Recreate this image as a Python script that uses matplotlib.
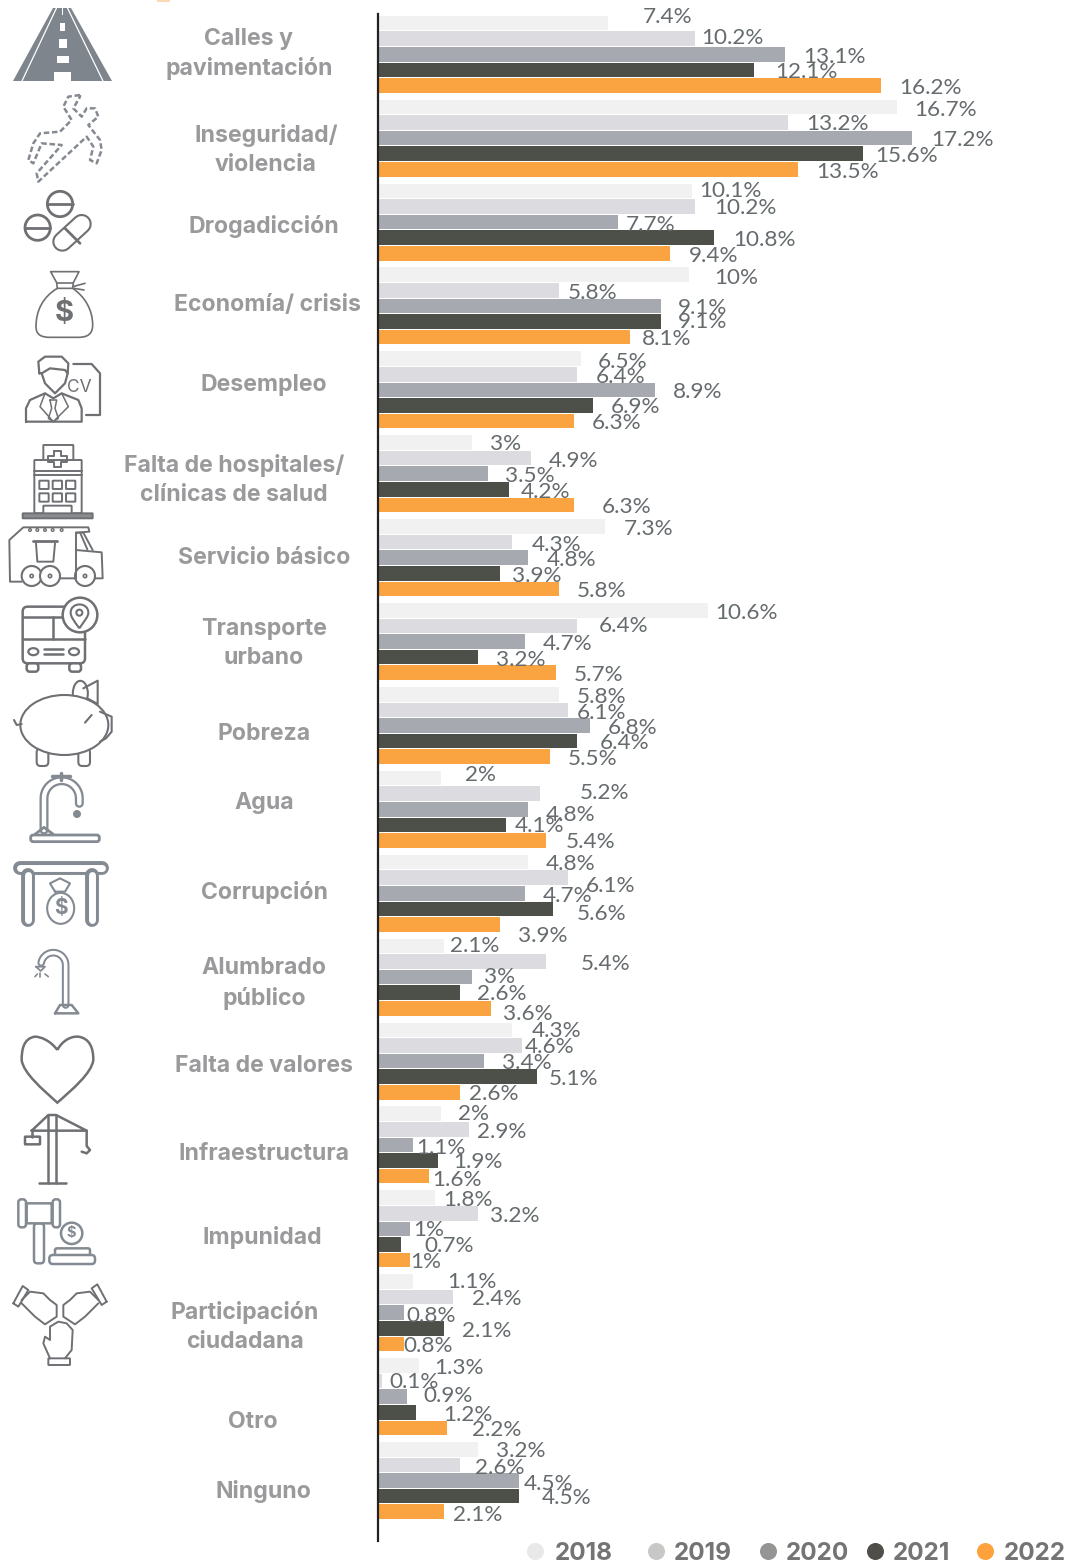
import numpy as np
from matplotlib import pyplot as plt
from matplotlib.patches import Circle, Ellipse, PathPatch, Rectangle, FancyBboxPatch
from matplotlib.path import Path

years = ['2018', '2019', '2020', '2021', '2022']
bar_colors = ['#f1f1f1', '#dcdce0', '#a6a9af', '#4d5048', '#f9a440']
dot_colors = ['#e8e8e8', '#c8c8c6', '#959593', '#4f4e49', '#ffa13c']

v2018 = [7.4, 16.7, 10.1, 10, 6.5, 3, 7.3, 10.6, 5.8, 2, 4.8, 2.1, 4.3, 2, 1.8, 1.1, 1.3, 3.2]
v2019 = [10.2, 13.2, 10.2, 5.8, 6.4, 4.9, 4.3, 6.4, 6.1, 5.2, 6.1, 5.4, 4.6, 2.9, 3.2, 2.4, 0.1, 2.6]
v2020 = [13.1, 17.2, 7.7, 9.1, 8.9, 3.5, 4.8, 4.7, 6.8, 4.8, 4.7, 3, 3.4, 1.1, 1, 0.8, 0.9, 4.5]
v2021 = [12.1, 15.6, 10.8, 9.1, 6.9, 4.2, 3.9, 3.2, 6.4, 4.1, 5.6, 2.6, 5.1, 1.9, 0.7, 2.1, 1.2, 4.5]
v2022 = [16.2, 13.5, 9.4, 8.1, 6.3, 6.3, 5.8, 5.7, 5.5, 5.4, 3.9, 3.6, 2.6, 1.6, 1, 0.8, 2.2, 2.1]
series = [v2018, v2019, v2020, v2021, v2022]

# label nudges in pixels, one row per category, the original chart has them all over the place
label_dx = [[34, 6, 18, 21, 18], [18, 18, 19, 13, 19], [7, 19, 8, 19, 18], [25, 9, 17, 17, 12],
            [17, 18, 18, 18, 17], [18, 18, 17, 12, 27], [18, 19, 19, 12, 18], [8, 21, 18, 18, 18],
            [18, 9, 18, 22, 18], [24, 40, 18, 9, 19], [18, 18, 18, 24, 18], [6, 34, 12, 17, 12],
            [19, 3, 18, 12, 9], [17, 8, 3, 15, 4], [8, 12, 3, 24, 0], [34, 19, 3, 18, 0],
            [15, 7, 16, 27, 25], [18, 15, 5.5, 23.5, 9]]
label_dy = [[-8, -3, 1, 0, 1], [1, 0, 0, 0, 1], [-2, 0, 1, 0, 1], [1, 1, 0, -1, 0],
            [1, 1, 0, 0, 0], [0, 1, 0, 1, 0], [1, 1, 0, 1, 0], [1, -2, 0, 1, 0],
            [1, 1, 1, 0, 0], [-5, -3, 4, -1, 0], [0, 6, 1, 3, 10], [-2, 0, -2, -1, 4],
            [-1, 0, 0, 0, 0], [-2, 1, 1, 0, 2], [0, 1, -1, 0, 0], [-1, 0, 1, 1, 0],
            [1, -1, -3, 1, 0], [0, 1, 1, 0, 1]]

# (lines, center x, first line y)
categories = [(['Calles y', 'pavimentación'], 249, 37), (['Inseguridad/', 'violencia'], 266, 134),
              (['Drogadicción'], 264, 225), (['Economía/ crisis'], 267, 304),
              (['Desempleo'], 264, 384), (['Falta de hospitales/', 'clínicas de salud'], 234, 464),
              (['Servicio básico'], 264, 557), (['Transporte', 'urbano'], 264, 627),
              (['Pobreza'], 264, 732), (['Agua'], 264, 802), (['Corrupción'], 264, 891),
              (['Alumbrado', 'público'], 264, 967), (['Falta de valores'], 264, 1064),
              (['Infraestructura'], 264, 1152), (['Impunidad'], 262, 1236),
              (['Participación', 'ciudadana'], 245, 1311), (['Otro'], 253, 1420), (['Ninguno'], 263, 1490)]

W, H = 1074, 1562
FONT = 'Lato'
HEAD = 'Inter'
GREY = '#6e7073'
BLUE = '#848a92'

fig = plt.figure(figsize=(W / 100, H / 100), dpi=100)

# bars: 31 px per percent from x=379, 83.9 px per category from y=23
ax = fig.add_axes([379 / W, 0, (W - 379) / W, 1])
ax.set_xlim(0, (W - 379) / 31)
ax.set_ylim((H - 23) / 83.9, -23 / 83.9)
ax.patch.set_alpha(0)
step = 15.6 / 83.9
for s, vals in enumerate(series):
    ypos = np.arange(len(vals)) + s * step
    ax.barh(ypos, vals, height=14.6 / 83.9, color=bar_colors[s], zorder=2)
    for g, v in enumerate(vals):
        ax.annotate(f'{v:g}%', (v, ypos[g]), xytext=(label_dx[g][s] * 0.72, -label_dy[g][s] * 0.72),
                    textcoords='offset points', ha='left', va='center_baseline', fontsize=16.2,
                    family=FONT, weight='normal', color='#666b6e', zorder=4)
for name in ['top', 'right', 'bottom']:
    ax.spines[name].set_visible(False)
ax.spines['left'].set_position(('outward', 0.7))
ax.spines['left'].set_bounds(-9 / 83.9, 1518 / 83.9)
ax.spines['left'].set_linewidth(1.6)
ax.spines['left'].set_color('#222222')
ax.spines['left'].set_zorder(3)
ax.set_xticks([])
ax.set_yticks([])

# overlay in pixel coordinates for labels, legend, icons
ov = fig.add_axes([0, 0, 1, 1])
ov.set_xlim(0, W)
ov.set_ylim(H, 0)
ov.axis('off')
ov.patch.set_alpha(0)

for lines, cx, y0 in categories:
    for i, t in enumerate(lines):
        ov.text(cx, y0 + 1.5 + i * 29.5, t, ha='center', va='center', fontsize=16.6, family=HEAD,
                weight='bold', color='#9a9a9c')

dot_x = [535, 656, 768, 875, 985]
text_x = [555, 674, 786, 893, 1004]
for i, yr in enumerate(years):
    ov.scatter([dot_x[i]], [1551], s=150, color=dot_colors[i], linewidths=0)
    ov.text(text_x[i], 1553, yr, ha='left', va='center', fontsize=17.5, family=HEAD, weight='bold', color='#747474')

ov.add_patch(Rectangle((157, 0), 13, 2, color='#fbd9b5', lw=0))


# icon helpers take coordinates from the 3x crop
def pts(p, oy):
    return [(x / 3, y / 3 + oy) for x, y in p]


def arc(cx, cy, r, a0, a1, n=24):
    t = np.radians(np.linspace(a0, a1, n))
    return list(zip(cx + r * np.cos(t), cy - r * np.sin(t)))


def line(p, oy=0, c=GREY, lw=1.6, zorder=5, **kw):
    q = pts(p, oy)
    ov.plot([a[0] for a in q], [a[1] for a in q], color=c, lw=lw, solid_capstyle='round',
            solid_joinstyle='round', zorder=zorder, **kw)


def curve(verts, codes, oy=0, c=GREY, lw=1.6, fill='none'):
    ov.add_patch(PathPatch(Path(pts(verts, oy), codes), fc=fill, ec=c, lw=lw, zorder=5))


def circ(x, y, r, oy=0, c=GREY, lw=1.6, fill='white'):
    ov.add_patch(Circle((x / 3, y / 3 + oy), r / 3, fc=fill, ec=c, lw=lw, zorder=3))


def rbox(x0, y0, x1, y1, oy=0, c=GREY, lw=1.6, r=4, fill='white'):
    ov.add_patch(FancyBboxPatch((x0 / 3 + r, y0 / 3 + oy + r), (x1 - x0) / 3 - 2 * r, (y1 - y0) / 3 - 2 * r,
                                boxstyle=f'round,pad={r}', fc=fill, ec=c, lw=lw))


def tube(p, oy=0, c=BLUE, outer=9, inner=5.5):
    # outline look: thick stroke with a white one on top
    q = pts(p, oy)
    xs, ys = [a[0] for a in q], [a[1] for a in q]
    ov.plot(xs, ys, color=c, lw=outer, solid_capstyle='round', solid_joinstyle='round')
    ov.plot(xs, ys, color='white', lw=inner, solid_capstyle='round', solid_joinstyle='round')


M, L, C, Z = Path.MOVETO, Path.LINETO, Path.CURVE4, Path.CLOSEPOLY

# road
ov.fill([13, 53, 71, 112], [81, 8, 8, 81], color='#7f858d', lw=0)
ov.plot([56.5, 22], [8, 81], color='white', lw=0.9)
ov.plot([67.5, 103], [8, 81], color='white', lw=0.9)
for y0, y1, w in [(8, 15, 1), (23, 31, 5), (39, 48, 8), (56, 63, 12), (72, 82, 17)]:
    ov.add_patch(Rectangle((62.5 - w / 2, y0), w, y1 - y0, color='white', lw=0))

# chalk outline
line([(240, 285), (205, 290), (190, 320), (215, 360), (180, 395), (120, 400), (100, 430), (85, 480),
      (100, 490), (125, 430), (185, 435), (110, 520), (115, 545), (260, 410), (280, 440), (270, 480),
      (290, 490), (305, 450), (300, 420), (265, 375), (295, 350), (285, 325), (260, 325), (245, 350),
      (220, 325), (240, 290), (240, 285)], c=BLUE, lw=1.8, linestyle=(0, (2.2, 1.1)))

# pills
circ(180, 612, 38, lw=2)
line([(142, 612), (218, 612)], lw=2)
circ(113, 683, 38, lw=2)
line([(75, 683), (151, 683)], lw=2)
tube([(187, 725), (245, 672)], c=GREY, outer=14.5, inner=11.5)
line([(195, 685), (240, 730)], lw=2)

# money bag
curve([(172, 865), (130, 890), (108, 930), (108, 980), (108, 1005), (125, 1012), (150, 1012), (235, 1012),
       (265, 1012), (278, 1000), (278, 975), (278, 930), (255, 890), (218, 865), (172, 865), (172, 865)],
      [M, C, C, C, C, C, C, L, C, C, C, C, C, C, L, Z], lw=1.2)
line([(172, 865), (170, 848), (152, 815), (237, 815), (220, 848), (218, 865)], lw=1.2)
line([(170, 848), (220, 848)], lw=1.2)
line([(218, 860), (255, 850)], lw=1.2)
line([(222, 865), (252, 870)], lw=1.2)
ov.text(64, 313, '$', ha='center', va='center', fontsize=21, family=HEAD, weight='bold', color=GREY)

# man with cv
line([(118, 70), (115, 35), (135, 20), (185, 20), (205, 40), (203, 70), (195, 100), (165, 130), (135, 100),
      (125, 70), (118, 70)], 350)
line([(125, 70), (150, 55), (195, 60), (203, 70)], 350)
line([(78, 215), (78, 175), (90, 150), (135, 130), (160, 145), (185, 130), (235, 150), (245, 175), (245, 215),
      (78, 215)], 350)
line([(135, 130), (120, 170), (160, 215), (205, 170), (185, 130)], 350, lw=1.1)
line([(150, 150), (170, 150), (165, 175), (175, 205), (160, 215), (145, 205), (155, 175), (150, 150)], 350, lw=1.1)
line([(220, 42), (275, 42), (300, 70), (300, 195), (258, 195)], 350)
ov.text(79, 388, 'CV', ha='center', va='center', fontsize=12.5, family=HEAD, color=GREY)

# hospital
rbox(130, 285, 220, 340, 350, r=0.5, lw=1.4)
rbox(103, 330, 245, 490, 350, r=0.5, lw=1.4)
line([(103, 362), (245, 362)], 350, lw=1.4)
line([(103, 375), (245, 375)], 350, lw=1.4)
line([(162, 303), (182, 303), (182, 318), (200, 318), (200, 337), (182, 337), (182, 352), (162, 352), (162, 337),
      (143, 337), (143, 318), (162, 318), (162, 303)], 350, lw=1.4)
for wy in [392, 430]:
    for wx in [118, 158, 198]:
        rbox(wx, wy, wx + 28, wy + 25, 350, r=0.5, lw=1.4)
rbox(130, 467, 215, 492, 350, r=0.5, lw=1.4)
rbox(68, 490, 278, 505, 350, r=0.5, lw=1.4, fill='#8a8c8f')

# truck
line([(65, 695), (30, 695), (28, 570), (70, 532), (265, 532), (268, 545), (228, 548), (228, 685), (180, 685)], 350, lw=1.4)
line([(228, 600), (305, 607), (308, 685), (285, 685)], 350, lw=1.4)
line([(228, 548), (250, 548), (278, 600)], 350, lw=1.4)
line([(242, 552), (262, 598)], 350, lw=1.4)
line([(108, 580), (112, 635), (160, 635), (165, 580)], 350, lw=1.4)
line([(100, 572), (170, 572)], 350, lw=2)
for dx in [90, 112, 135, 158, 185]:
    circ(dx, 540, 4, 350, lw=1)
for wx in [95, 150, 255]:
    circ(wx, 678, 30, 350, lw=1.5)
    circ(wx, 678, 5, 350, lw=1.2)

# bus
rbox(68, 770, 255, 940, 350, r=5, lw=1.8)
line([(68, 800), (255, 800)], 350, lw=1.8, zorder=2)
line([(160, 800), (160, 868)], 350, lw=1.8)
line([(68, 868), (255, 868)], 350, lw=1.8)
line([(133, 897), (190, 897)], 350, lw=1.8)
line([(133, 913), (190, 913)], 350, lw=1.8)
ov.add_patch(Ellipse((100 / 3, 905 / 3 + 350), 10, 7, fc='white', ec=GREY, lw=1.6))
ov.add_patch(Ellipse((222 / 3, 905 / 3 + 350), 10, 7, fc='white', ec=GREY, lw=1.6))
rbox(80, 940, 115, 965, 350, r=3, lw=1.8)
rbox(208, 940, 243, 965, 350, r=3, lw=1.8)
circ(240, 795, 52, 350, lw=1.8)
curve([(238, 835), (220, 810), (212, 800), (212, 788), (212, 755), (265, 755), (265, 788), (265, 800), (255, 810),
       (238, 835)], [M, C, C, C, C, C, C, C, C, C], 350, lw=1.5)
ov.add_patch(Circle((238 / 3, 788 / 3 + 350), 3, fc='white', ec=GREY, lw=1.5, zorder=6))

# pig
line([(42, 1110), (50, 1125), (65, 1122)], 350, lw=1.5)
line([(300, 1085), (335, 1100), (335, 1145), (318, 1165), (300, 1175)], 350, lw=1.5)
ov.add_patch(Ellipse((241 / 3, 1030 / 3 + 350), 15, 25, fc='white', ec=GREY, lw=1.5, zorder=2))
line([(250, 1015), (293, 992), (293, 1062), (262, 1045)], 350, lw=1.5, zorder=2)
rbox(110, 1195, 145, 1248, 350, r=4, lw=1.5)
rbox(235, 1195, 270, 1248, 350, r=4, lw=1.5)
ov.add_patch(Ellipse((193 / 3, 1125 / 3 + 350), 88, 60, fc='white', ec=GREY, lw=1.5, zorder=3))
line([(255, 1118), (275, 1095)], 350, lw=1.5)

# tap
line([(155, 18), (210, 18)], 770, c=BLUE, lw=2.5)
line([(182, 8), (182, 30)], 770, c=BLUE, lw=2.5)
tube([(132, 180)] + arc(185, 85, 53, 180, 0) + [(238, 100)], 770, outer=6.5, inner=3.2)
rbox(92, 195, 298, 215, 770, r=2.5, c=BLUE, lw=2)
line([(105, 193), (132, 172), (160, 193)], 770, c=BLUE, lw=2)
ov.add_patch(Circle((231 / 3, 132 / 3 + 770), 4, color=BLUE, lw=0))

# table with bag
tube([(60, 295), (305, 295)], 770, outer=10, inner=5)
tube([(84, 315), (84, 450)], 770, outer=10, inner=5)
tube([(277, 315), (277, 450)], 770, outer=10, inner=5)
ov.add_patch(Ellipse((182 / 3, 415 / 3 + 770), 27, 31, fc='white', ec=BLUE, lw=1.5))
line([(165, 365), (150, 340), (180, 325), (210, 340), (195, 365), (165, 365)], 770, c=BLUE, lw=1.5)
ov.text(60.5, 908, '$', ha='center', va='center', fontsize=15, family=HEAD, weight='bold', color=BLUE)

# street lamp
tube([(197, 705)] + arc(160, 585, 37, 0, 170), 770, outer=5.5, inner=2.6)
line([(108, 590), (135, 590), (122, 603), (108, 590)], 770, c=BLUE, lw=1.3)
line([(165, 730), (235, 730), (215, 705), (180, 705), (165, 730)], 770, c=BLUE, lw=1.8)
line([(120, 610), (120, 622)], 770, c=BLUE, lw=1.2)
line([(105, 620), (112, 612)], 770, c=BLUE, lw=1.2)
line([(145, 620), (135, 612)], 770, c=BLUE, lw=1.2)

# heart
curve([(172, 840), (150, 810), (120, 800), (105, 800), (70, 805), (65, 840), (65, 870), (70, 910), (130, 960),
       (172, 998), (215, 960), (275, 910), (280, 870), (280, 835), (270, 805), (235, 800), (210, 798), (185, 815),
       (172, 840)], [M] + [C] * 18, 770, lw=1.8)

# crane
line([(145, 1035), (145, 1240)], 770, lw=1.8)
line([(168, 1035), (168, 1240)], 770, lw=1.8)
line([(118, 1240), (197, 1240)], 770, lw=1.8)
line([(95, 1082), (145, 1035), (168, 1035), (260, 1082), (95, 1082)], 770, lw=1.8)
rbox(75, 1100, 120, 1123, 770, r=0.5, lw=1.8)
line([(97, 1082), (97, 1100)], 770, lw=1.8)
line([(260, 1082), (260, 1128), (270, 1140), (260, 1150), (245, 1145)], 770, lw=1.8)

# gavel
rbox(102, 100, 132, 220, 1190, r=3.5, c=BLUE, lw=1.8)
rbox(80, 40, 155, 100, 1190, r=0.5, c=BLUE, lw=1.8)
rbox(55, 28, 78, 112, 1190, r=3, c=BLUE, lw=1.8)
rbox(158, 28, 180, 112, 1190, r=3, c=BLUE, lw=1.8)
circ(215, 130, 32, 1190, c=BLUE, lw=1.8)
ov.text(71.5, 1233, '$', ha='center', va='center', fontsize=10.5, family=HEAD, weight='bold', color=BLUE, zorder=6)
rbox(165, 175, 270, 200, 1190, r=2, c=BLUE, lw=1.8)
rbox(148, 195, 285, 222, 1190, r=3.5, c=BLUE, lw=1.8)

# hands
hand = [(65, 330), (90, 305), (130, 310), (150, 330), (170, 345), (170, 380), (135, 403), (105, 380), (65, 340)]
cuff = [(40, 340), (68, 288), (85, 300), (55, 350), (40, 340)]
line(hand, 1190, lw=1.4)
line(cuff, 1190, lw=1.4)
line([(360 - x, y) for x, y in hand], 1190, lw=1.4)
line([(360 - x, y - 5) for x, y in cuff], 1190, lw=1.4)
line([(150, 505), (130, 460), (135, 440), (150, 450), (150, 410), (175, 395), (200, 400), (218, 420), (215, 480),
      (195, 505)], 1190, lw=1.4)
rbox(145, 505, 210, 525, 1190, r=0.5, lw=1.4)

fig.savefig('out.png', dpi=100)
plt.close()
